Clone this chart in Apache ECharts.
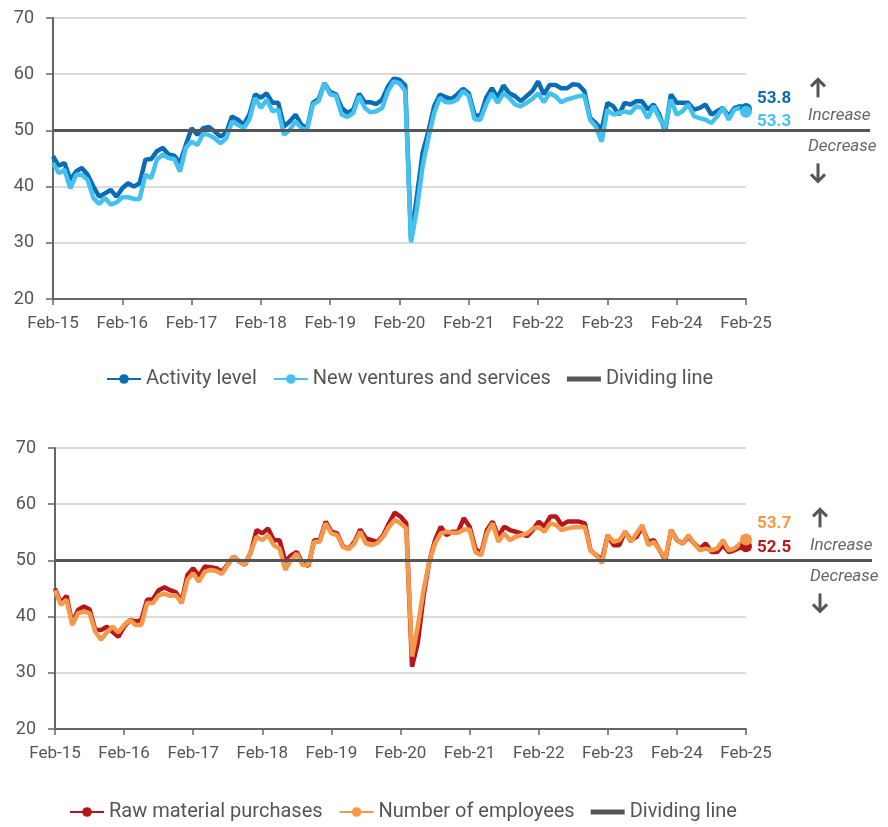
<!DOCTYPE html>
<html><head><meta charset="utf-8">
<script src="https://cdn.jsdelivr.net/npm/echarts@6/dist/echarts.min.js"></script>
<style>html,body{margin:0;padding:0;background:#fff}#c{width:888px;height:827px}</style>
</head><body><div id="c"></div>
<script>
const MONTHS = ['Jan','Feb','Mar','Apr','May','Jun','Jul','Aug','Sep','Oct','Nov','Dec'];
const categories = [];
for (let k = 0; k <= 120; k++) {
  const m = (1 + k) % 12, y = 15 + Math.floor((1 + k) / 12);
  categories.push(MONTHS[m] + '-' + y);
}
const yTicks = [20, 30, 40, 50, 60, 70];

const activityLevel = [45.4,43.7,44.2,41.2,42.7,43.3,42.1,40.0,38.2,38.8,39.4,38.2,39.7,40.6,40.0,40.6,44.8,44.9,46.3,46.9,45.7,45.5,44.2,47.4,50.4,49.2,50.4,50.6,49.8,48.9,49.6,52.5,51.9,51.0,52.8,56.4,55.8,56.6,54.9,54.9,50.7,51.6,52.8,51.0,50.4,54.9,55.6,58.4,56.8,56.4,54.0,53.1,53.7,56.5,55.0,55.0,54.7,55.5,57.8,59.2,59.0,58.0,30.5,38.2,46.0,49.8,54.3,56.4,55.9,55.6,56.4,57.4,56.6,52.8,52.5,55.8,57.5,55.8,58.0,56.6,56.1,55.2,56.1,57.0,58.7,56.4,58.1,58.1,57.5,57.5,58.2,58.1,57.0,52.2,51.3,50.1,54.9,54.3,52.8,54.9,54.6,55.2,55.2,53.7,54.6,52.8,49.8,56.4,54.9,54.9,54.9,53.7,54.0,54.6,52.8,53.4,54.0,52.5,54.0,54.3,53.8];
const newVentures = [44.2,42.4,43.0,39.7,42.1,42.1,41.2,38.0,36.9,38.0,36.8,37.2,38.1,38.1,37.8,37.8,42.1,41.5,44.8,45.7,45.1,44.9,42.7,46.9,48.0,47.4,49.4,49.2,48.6,47.7,48.6,51.6,51.0,50.4,51.9,55.8,54.0,55.5,53.4,53.7,49.2,50.1,51.6,50.4,50.1,54.6,55.2,58.4,56.4,56.2,52.8,52.4,53.1,56.1,54.0,53.2,53.4,54.0,57.0,58.7,58.4,57.0,30.1,35.9,43.6,48.6,53.1,55.8,55.0,55.0,55.5,57.0,56.1,52.0,51.9,54.6,56.6,54.9,56.6,55.8,54.6,54.3,54.9,55.6,56.6,55.0,56.6,56.1,55.0,55.5,55.8,56.1,56.2,51.9,50.7,48.0,53.7,52.8,53.1,53.4,53.1,54.3,54.0,52.2,54.3,52.2,50.4,55.5,52.8,53.4,54.6,52.5,52.2,51.9,51.3,52.5,54.0,51.9,53.7,54.0,53.3];
const rawMaterial = [45.0,42.4,43.7,38.8,41.2,41.8,41.3,37.6,37.6,38.2,37.3,36.4,38.2,39.4,39.1,39.4,43.0,43.1,44.7,45.2,44.7,44.3,42.7,47.4,48.6,47.2,48.9,48.8,48.6,48.0,49.3,50.7,49.8,49.2,51.5,55.4,54.8,55.7,53.6,53.6,49.8,50.9,51.5,49.5,49.0,53.6,53.6,56.9,55.1,54.8,52.5,52.1,53.3,55.5,53.9,53.6,53.3,54.5,56.6,58.5,57.8,56.6,31.1,35.3,43.6,49.8,53.6,56.0,54.5,55.1,55.1,57.5,56.0,52.1,51.2,55.4,56.9,54.2,56.0,55.4,55.1,54.8,54.3,55.4,56.9,56.0,57.8,57.8,56.3,56.9,56.9,56.9,56.6,51.8,50.9,50.1,54.5,52.7,52.7,55.1,53.6,54.2,56.0,53.3,53.6,51.8,50.1,55.4,53.6,53.0,54.2,53.0,52.1,53.0,51.5,51.5,52.7,51.5,51.8,52.3,52.5];
const employees = [44.7,42.1,43.0,38.5,40.6,40.9,40.6,37.3,35.9,37.2,38.2,37.2,38.5,39.4,38.5,38.5,42.4,42.4,43.8,44.1,43.7,43.8,42.4,46.5,47.7,46.2,48.0,48.3,48.1,47.6,49.2,50.7,49.8,49.2,51.5,54.2,53.6,54.5,52.7,52.1,48.3,50.1,51.2,49.2,49.2,53.3,53.3,56.6,54.8,54.5,52.4,52.0,53.0,55.1,53.0,52.7,53.1,54.2,56.0,57.2,56.6,55.7,32.9,38.2,44.7,49.8,53.0,54.8,55.1,54.9,54.9,55.5,55.5,51.5,50.9,54.8,56.6,53.3,54.8,53.6,54.2,54.5,54.8,55.7,55.9,55.1,56.6,56.3,55.4,55.7,55.9,55.9,56.0,51.8,50.9,49.5,54.5,53.3,53.6,55.1,53.3,54.8,56.3,52.7,53.3,51.8,50.4,55.4,53.6,53.0,54.5,53.0,51.8,52.1,51.8,52.1,53.6,51.8,52.1,53.0,53.7];
const dividingValue = 50;
const dividing = categories.map(() => dividingValue);

const FONT = '"Roboto", "Liberation Sans", sans-serif';
const GREY = '#555';
const C_ACT = '#0b6cb3', C_NEW = '#45c1ef', C_RAW = '#b5161b', C_EMP = '#f5984a';
const last = categories.length - 1;

function xAxis(gi) {
  return {
    type: 'category', gridIndex: gi, data: categories, boundaryGap: false,
    axisLine: { lineStyle: { color: '#666', width: 2 } },
    axisTick: { interval: 11, length: 6, lineStyle: { color: '#666', width: 1.5 } },
    axisLabel: { interval: 11, color: GREY, fontFamily: FONT, fontSize: 17, margin: 16 },
    splitLine: { show: false }
  };
}
function yAxis(gi) {
  return {
    type: 'value', gridIndex: gi, min: yTicks[0], max: yTicks[yTicks.length - 1], interval: 10,
    axisLine: { show: true, lineStyle: { color: '#666', width: 2 } },
    axisTick: { show: true, length: 7, lineStyle: { color: '#666', width: 1.5 } },
    axisLabel: { color: GREY, fontFamily: FONT, fontSize: 18, margin: 19 },
    splitLine: { lineStyle: { color: '#cfcfcf', width: 1.5 } }
  };
}
function lineSeries(name, data, color, gi, labelOffsetY) {
  return {
    name, type: 'line', xAxisIndex: gi, yAxisIndex: gi, data,
    symbol: 'circle', showSymbol: true, showAllSymbol: true,
    symbolSize: (v, p) => (p.dataIndex === last ? 12 : 0),
    lineStyle: { color, width: 4.5 }, itemStyle: { color },
    endLabel: {
      show: true, formatter: p => Number(p.value).toFixed(1),
      color, fontFamily: FONT, fontSize: 17, fontWeight: 'bold', offset: [3, labelOffsetY]
    },
    emphasis: { disabled: true }, animation: false
  };
}
function divSeries(gi) {
  return {
    name: 'Dividing line', type: 'line', xAxisIndex: gi, yAxisIndex: gi, data: dividing,
    symbol: 'none', lineStyle: { color: GREY, width: 3 }, itemStyle: { color: GREY },
    emphasis: { disabled: true }, animation: false
  };
}
const divIcon = 'path://M0,0h34v5H0z';
function legend(top, left, names) {
  return {
    top, left, itemWidth: 34, itemHeight: 12, itemGap: 16,
    textStyle: { color: GREY, fontFamily: FONT, fontSize: 20 },
    data: [{ name: names[0] }, { name: names[1] }, { name: 'Dividing line', icon: divIcon }]
  };
}

const chart = echarts.init(document.getElementById('c'), null, { renderer: 'canvas' });
chart.setOption({
  animation: false,
  grid: [
    { left: 53, right: 142, top: 18, height: 281 },
    { left: 55, right: 142, top: 448, height: 281 }
  ],
  xAxis: [xAxis(0), xAxis(1)],
  yAxis: [yAxis(0), yAxis(1)],
  legend: [
    legend(364, 101, ['Activity level', 'New ventures and services']),
    legend(797, 64, ['Raw material purchases', 'Number of employees'])
  ],
  series: [
    lineSeries('Activity level', activityLevel, C_ACT, 0, -10),
    lineSeries('New ventures and services', newVentures, C_NEW, 0, 10),
    divSeries(0),
    lineSeries('Raw material purchases', rawMaterial, C_RAW, 1, 1),
    lineSeries('Number of employees', employees, C_EMP, 1, -16),
    divSeries(1)
  ]
});

function arrow(cx, cy, dir) {
  const h = 9, hw = 7;
  const tip = cy + dir * h, tail = cy - dir * h;
  return [
    { type: 'line', shape: { x1: cx, y1: tail, x2: cx, y2: tip - dir * 1 }, style: { stroke: GREY, lineWidth: 3 } },
    { type: 'polyline', shape: { points: [[cx - hw, tip - dir * hw], [cx, tip], [cx + hw, tip - dir * hw]] },
      style: { stroke: GREY, lineWidth: 3, fill: null, lineJoin: 'miter' } }
  ];
}
function sideGraphics(gi, dx) {
  const p = chart.convertToPixel({ gridIndex: gi }, [last, dividingValue]);
  const x = p[0], y = p[1];
  const tStyle = (text) => ({ text, fill: '#666', fontFamily: FONT, fontSize: 17, fontStyle: 'italic', verticalAlign: 'middle' });
  return [
    { type: 'line', shape: { x1: x, y1: y, x2: x + 124 + dx, y2: y }, style: { stroke: GREY, lineWidth: 3 } },
    { type: 'text', x: x + 62 + dx, y: y - 15, style: tStyle('Increase') },
    { type: 'text', x: x + 62 + dx, y: y + 16, style: tStyle('Decrease') }
  ].concat(arrow(x + 72 + dx, y - 42, -1), arrow(x + 72 + dx, y + 42, 1));
}
chart.setOption({ graphic: sideGraphics(0, 0).concat(sideGraphics(1, 2)) });
</script></body></html>
